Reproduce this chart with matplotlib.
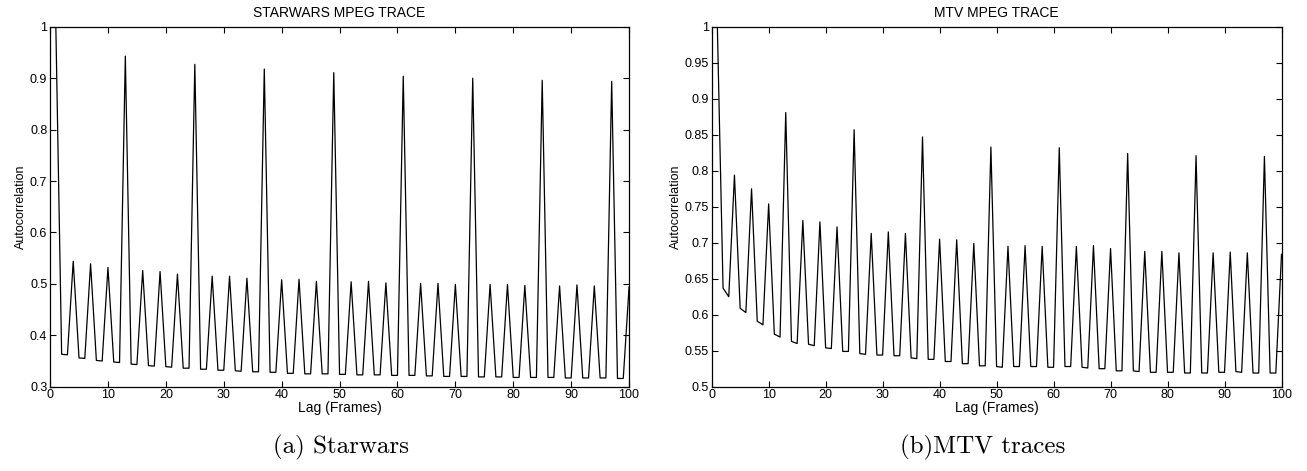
import matplotlib
matplotlib.use("Agg")
import matplotlib.pyplot as plt

# frame index as plotted (lag 0 sits at index 1)
lags = list(range(1, 101))

starwars_acf = [
    1.000,
    0.363, 0.362, 0.544, 0.356, 0.355, 0.539, 0.351, 0.350, 0.532, 0.348, 0.347, 0.943,
    0.344, 0.343, 0.526, 0.341, 0.340, 0.524, 0.339, 0.338, 0.519, 0.336, 0.336, 0.927,
    0.334, 0.334, 0.515, 0.332, 0.332, 0.515, 0.331, 0.330, 0.511, 0.329, 0.329, 0.918,
    0.328, 0.328, 0.508, 0.326, 0.326, 0.509, 0.325, 0.325, 0.505, 0.325, 0.325, 0.911,
    0.324, 0.324, 0.504, 0.323, 0.323, 0.505, 0.323, 0.323, 0.502, 0.322, 0.322, 0.904,
    0.322, 0.322, 0.501, 0.321, 0.321, 0.501, 0.320, 0.320, 0.499, 0.320, 0.320, 0.900,
    0.319, 0.319, 0.499, 0.319, 0.319, 0.499, 0.318, 0.318, 0.497, 0.318, 0.318, 0.896,
    0.318, 0.318, 0.496, 0.317, 0.317, 0.498, 0.317, 0.317, 0.496, 0.317, 0.317, 0.894,
    0.316, 0.316, 0.494,
]

mtv_acf = [
    1.000,
    0.637, 0.625, 0.794, 0.609, 0.603, 0.775, 0.591, 0.586, 0.754, 0.573, 0.569, 0.881,
    0.563, 0.560, 0.731, 0.559, 0.557, 0.729, 0.554, 0.553, 0.722, 0.549, 0.549, 0.857,
    0.546, 0.545, 0.713, 0.544, 0.544, 0.715, 0.543, 0.543, 0.713, 0.540, 0.539, 0.847,
    0.538, 0.538, 0.705, 0.535, 0.535, 0.704, 0.532, 0.532, 0.699, 0.529, 0.529, 0.833,
    0.528, 0.527, 0.695, 0.528, 0.528, 0.696, 0.528, 0.528, 0.695, 0.527, 0.527, 0.832,
    0.528, 0.528, 0.695, 0.527, 0.526, 0.696, 0.525, 0.525, 0.692, 0.522, 0.522, 0.824,
    0.522, 0.521, 0.688, 0.520, 0.520, 0.688, 0.520, 0.520, 0.686, 0.519, 0.519, 0.821,
    0.519, 0.519, 0.686, 0.520, 0.520, 0.687, 0.521, 0.520, 0.686, 0.519, 0.519, 0.820,
    0.519, 0.519, 0.684,
]

x_ticks = list(range(0, 101, 10))
starwars_yticks = [0.3, 0.4, 0.5, 0.6, 0.7, 0.8, 0.9, 1.0]
starwars_ylabels = ["0.3", "0.4", "0.5", "0.6", "0.7", "0.8", "0.9", "1"]
mtv_yticks = [0.5, 0.55, 0.6, 0.65, 0.7, 0.75, 0.8, 0.85, 0.9, 0.95, 1.0]
mtv_ylabels = ["0.5", "0.55", "0.6", "0.65", "0.7", "0.75", "0.8", "0.85", "0.9", "0.95", "1"]

plt.rcParams['font.family'] = ['Liberation Sans', 'DejaVu Sans']

fig = plt.figure(figsize=(13.07, 4.71), dpi=100)
ax_sw = fig.add_axes([0.0383, 0.179, 0.443, 0.764])
ax_mtv = fig.add_axes([0.5445, 0.179, 0.436, 0.764])


def style_axes(axes, title, yticks, ylabels, ylim):
    axes.set_xlim(0, 100)
    axes.set_ylim(*ylim)
    axes.set_xticks(x_ticks)
    axes.set_xticklabels([str(t) for t in x_ticks])
    axes.set_yticks(yticks)
    axes.set_yticklabels(ylabels)
    axes.tick_params(direction='in', top=True, right=True, length=4, width=0.8,
                     labelsize=9, pad=2)
    for sp in axes.spines.values():
        sp.set_linewidth(0.9)
    axes.set_title(title, fontsize=10, pad=7)
    axes.set_xlabel('Lag (Frames)', fontsize=10, labelpad=0)
    axes.set_ylabel('Autocorrelation', fontsize=9, labelpad=2)


ax_sw.plot(lags, starwars_acf, color='black', linewidth=0.9)
style_axes(ax_sw, 'STARWARS MPEG TRACE', starwars_yticks, starwars_ylabels, (0.3, 1.0))

ax_mtv.plot(lags, mtv_acf, color='black', linewidth=0.9)
style_axes(ax_mtv, 'MTV MPEG TRACE', mtv_yticks, mtv_ylabels, (0.5, 1.0))

# sub-figure captions
fig.text(341 / 1307, 1 - 447 / 471, '(a) Starwars', family='cmr10', fontsize=18,
         ha='center', va='center')
fig.text(983 / 1307, 1 - 447 / 471, '(b)MTV traces', family='cmr10', fontsize=18,
         ha='center', va='center')

plt.savefig('out.png', dpi=100)
plt.close()
